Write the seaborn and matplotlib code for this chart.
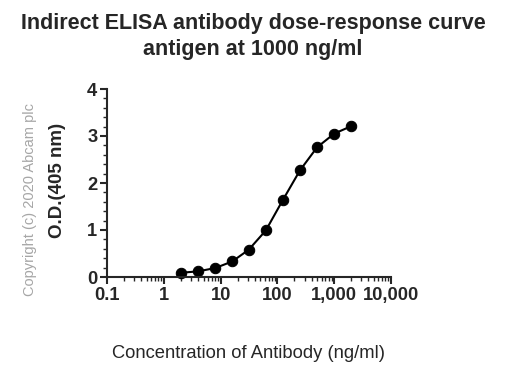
import pandas as pd
import matplotlib.pyplot as plt
import matplotlib.ticker as mticker
import seaborn as sns

# antibody concentration (ng/ml) and measured O.D. at 405 nm
conc = [2, 4, 8, 16, 31.25, 62.5, 125, 250, 500, 1000, 2000]
od = [0.09, 0.12, 0.19, 0.33, 0.58, 0.99, 1.64, 2.27, 2.76, 3.05, 3.21]
x_ticks = [0.1, 1, 10, 100, 1000, 10000]
x_tick_labels = ["0.1", "1", "10", "100", "1,000", "10,000"]
y_ticks = [0, 1, 2, 3, 4]

sns.set_style("ticks")
plt.rcParams['font.family'] = ['Liberation Sans', 'DejaVu Sans']

df = pd.DataFrame({"conc": conc, "od": od})

fig = plt.figure(figsize=(5.06, 3.81), dpi=100)
ax = fig.add_axes([107 / 506, 1 - 277 / 381, 284 / 506, 188 / 381])

sns.lineplot(data=df, x="conc", y="od", ax=ax, color="black", linewidth=1.5,
             marker="o", markersize=7.5, markeredgecolor="black", clip_on=False)

ax.set_xscale("log")
ax.set_xlim(0.1, 10000)
ax.set_ylim(0, 4)
ax.set_xticks(x_ticks)
ax.set_xticklabels(x_tick_labels)
ax.xaxis.set_minor_locator(mticker.LogLocator(base=10, subs=range(2, 10), numticks=20))
ax.xaxis.set_minor_formatter(mticker.NullFormatter())
ax.set_yticks(y_ticks)
ax.yaxis.set_minor_locator(mticker.MultipleLocator(0.2))

for side in ["top", "right"]:
    ax.spines[side].set_visible(False)
for side in ["left", "bottom"]:
    ax.spines[side].set_linewidth(1.5)

ax.tick_params(which="major", length=5, width=1.5, labelsize=13.2, pad=2)
ax.tick_params(which="minor", length=3, width=1)
for lbl in ax.get_xticklabels() + ax.get_yticklabels():
    lbl.set_fontweight("bold")

ax.set_xlabel("Concentration of Antibody (ng/ml)", fontsize=13.2)
ax.set_ylabel("O.D.(405 nm)", fontsize=13.5, fontweight="bold")
ax.xaxis.set_label_coords(0.5, -0.36)
ax.yaxis.set_label_coords(-0.145, 0.515)

fig.text(0.5, 1 - 24 / 381, "Indirect ELISA antibody dose-response curve",
         ha="center", va="center", fontsize=15.5, fontweight="bold")
fig.text(0.5, 1 - 49 / 381, "antigen at 1000 ng/ml",
         ha="center", va="center", fontsize=15.5, fontweight="bold")
fig.text(30 / 506, 1 - 200 / 381, "Copyright (c) 2020 Abcam plc", rotation=90,
         ha="center", va="center", fontsize=10.5, color="#a6a6a6")

fig.savefig("out.png", dpi=100)
